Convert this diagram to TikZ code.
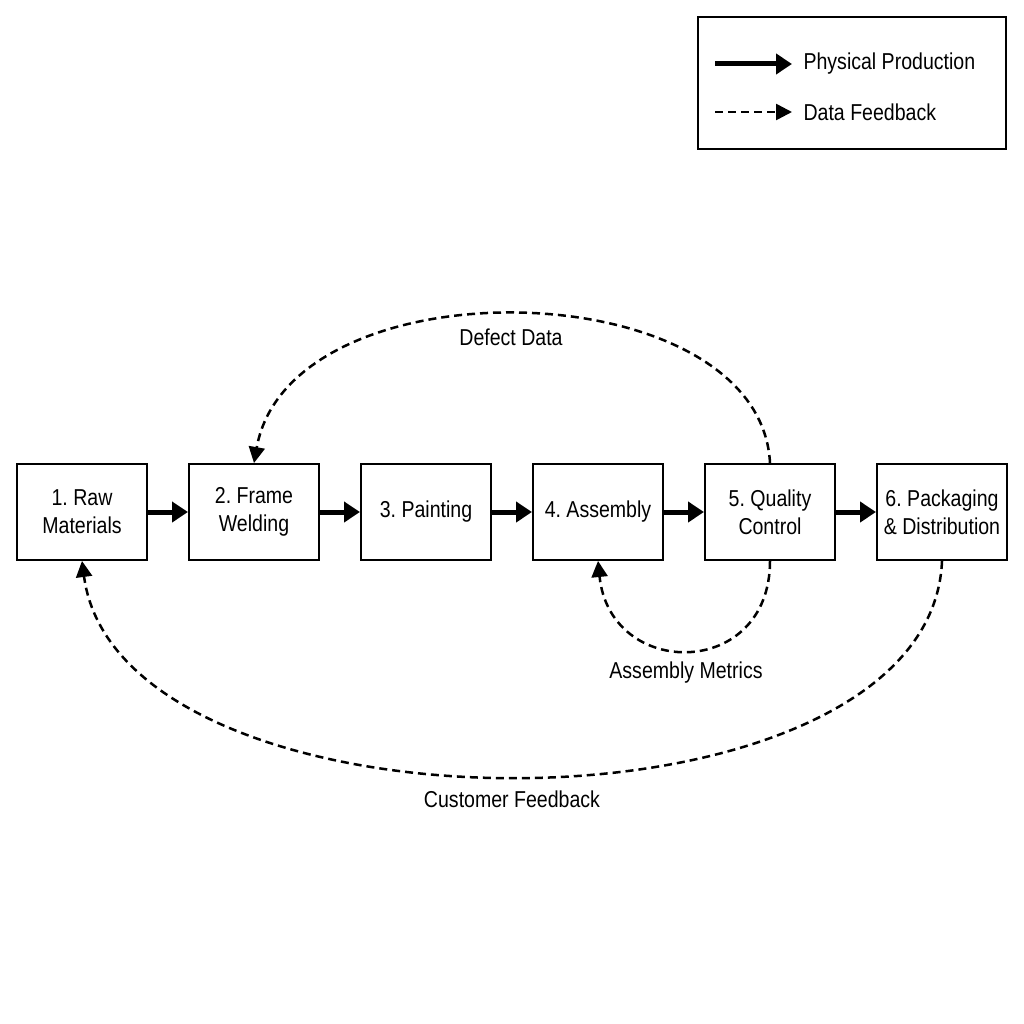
\documentclass[tikz,border=0pt]{standalone}
\usepackage{fontspec}
\setmainfont{Liberation Sans}[FakeStretch=0.85]
\usetikzlibrary{arrows.meta}
\begin{document}
\frenchspacing
\begin{tikzpicture}[x=1pt,y=-1pt,
 box/.style={draw,line width=2pt,minimum width=130pt,minimum height=96pt,align=center,font=\fontsize{23}{28}\selectfont,inner sep=0pt},
 lab/.style={font=\fontsize{23}{26}\selectfont},
 phys/.style={line width=5pt,-{Triangle[length=16pt,width=20pt]}},
 data/.style={line width=2.5pt,dash pattern=on 8pt off 5pt,-{Triangle[length=16pt,width=16pt]}}]
\useasboundingbox (0,0) rectangle (1024,1024);
\node[box] (b1) at (82,512) {1. Raw\\Materials};
\node[box] (b2) at (254,512) {2. Frame\\Welding};
\node[box] (b3) at (426,512) {3. Painting};
\node[box] (b4) at (598,512) {4. Assembly};
\node[box] (b5) at (770,512) {5. Quality\\Control};
\node[box] (b6) at (942,512) {6. Packaging\\\& Distribution};
\draw[phys] (b1) -- (b2);
\draw[phys] (b2) -- (b3);
\draw[phys] (b3) -- (b4);
\draw[phys] (b4) -- (b5);
\draw[phys] (b5) -- (b6);
\draw[data] (b5.north) .. controls (760,270) and (290,260) .. (b2.north);
\draw[data] (b5.south) .. controls (770,680) and (610,680) .. (b4.south);
\draw[data] (b6.south) .. controls (930,848) and (120,848) .. (b1.south);
\node[lab] (l1) at (511,337) {Defect Data};
\node[lab] (l2) at (686,673) {Assembly Metrics};
\node[lab] (l3) at (512,799) {Customer Feedback};
\node[draw,line width=2pt,minimum width=308pt,minimum height=132pt] (leg) at (852,83) {};
\coordinate (p1) at (715,64); \coordinate (p2) at (792,64);
\coordinate (d1) at (715,112); \coordinate (d2) at (792,112);
\draw[phys] (p1) -- (p2);
\draw[data] (d1) -- (d2);
\node[lab,anchor=west] (t1) at (800,64) {Physical Production};
\node[lab,anchor=west] (t2) at (800,112) {Data Feedback};
\end{tikzpicture}
\end{document}
